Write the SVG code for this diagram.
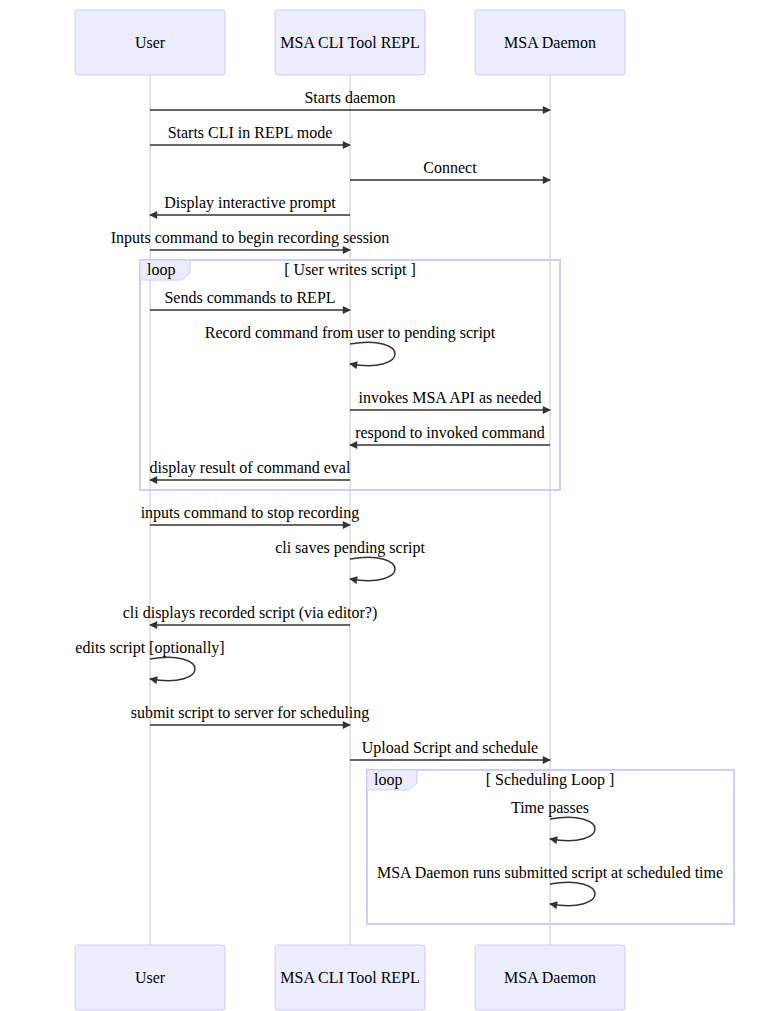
<svg xmlns="http://www.w3.org/2000/svg" width="784" height="1011" viewBox="0 0 784 1011">
  <style>
    text { font-family: "Liberation Serif", "Times New Roman", serif; font-size: 16px; fill: #000; text-anchor: middle; }
    .actor { fill: #ECECFF; stroke: #CCCCFF; stroke-width: 1; }
    .lifeline { stroke: #c8c8c8; stroke-width: 1; fill: none; }
    .msg { stroke: #333; stroke-width: 1.5; fill: none; marker-end: url(#arrowhead); }
    .loopLine { stroke: #CCCCFF; stroke-width: 2; fill: none; }
    .labelBox { fill: #ECECFF; stroke: #CCCCFF; stroke-width: 1; }
    .loopText { text-anchor: start; }
  </style>
  <defs>
    <marker id="arrowhead" markerUnits="userSpaceOnUse" viewBox="0 0 10 10" refX="9" refY="5" markerWidth="9" markerHeight="8" orient="auto">
      <path d="M0,0 L10,5 L0,10 z" fill="#333"/>
    </marker>
  </defs>
  <rect width="784" height="1011" fill="#fff"/>

  <!-- lifelines -->
  <g id="lifelines">
    <line class="lifeline" x1="150" y1="75" x2="150" y2="945"/>
    <line class="lifeline" x1="350" y1="75" x2="350" y2="945"/>
    <line class="lifeline" x1="550" y1="75" x2="550" y2="945"/>
  </g>

  <!-- participants, top -->
  <g id="user-top">
    <rect class="actor" x="75" y="10" width="150" height="65" rx="3"/>
    <text x="150" y="47.5">User</text>
  </g>
  <g id="repl-top">
    <rect class="actor" x="275" y="10" width="150" height="65" rx="3"/>
    <text x="350" y="47.5">MSA CLI Tool REPL</text>
  </g>
  <g id="daemon-top">
    <rect class="actor" x="475" y="10" width="150" height="65" rx="3"/>
    <text x="550" y="47.5">MSA Daemon</text>
  </g>

  <!-- loop frames -->
  <g id="loop-user-writes">
    <rect class="loopLine" x="140" y="260" width="420" height="230"/>
    <polygon class="labelBox" points="140,260 190,260 190,273 181.6,280 140,280"/>
    <text class="loopText" x="147" y="275">loop</text>
    <text x="350" y="275">[ User writes script ]</text>
  </g>
  <g id="loop-scheduling">
    <rect class="loopLine" x="367" y="770" width="367" height="154"/>
    <polygon class="labelBox" points="367,770 417,770 417,783 408.6,790 367,790"/>
    <text class="loopText" x="374" y="785">loop</text>
    <text x="550" y="785">[ Scheduling Loop ]</text>
  </g>

  <!-- messages -->
  <g id="connectors">
    <line class="msg" x1="150" y1="110" x2="550" y2="110"/>
    <text x="350" y="102.5">Starts daemon</text>

    <line class="msg" x1="150" y1="145" x2="350" y2="145"/>
    <text x="250" y="137.5">Starts CLI in REPL mode</text>

    <line class="msg" x1="350" y1="180" x2="550" y2="180"/>
    <text x="450" y="172.5">Connect</text>

    <line class="msg" x1="350" y1="215" x2="150" y2="215"/>
    <text x="250" y="207.5">Display interactive prompt</text>

    <line class="msg" x1="150" y1="250" x2="350" y2="250"/>
    <text x="250" y="242.5">Inputs command to begin recording session</text>

    <line class="msg" x1="150" y1="310" x2="350" y2="310"/>
    <text x="250" y="302.5">Sends commands to REPL</text>

    <path class="msg" d="M350,344 C410,334 410,374 350,364"/>
    <text x="350" y="337.5">Record command from user to pending script</text>

    <line class="msg" x1="350" y1="410" x2="550" y2="410"/>
    <text x="450" y="402.5">invokes MSA API as needed</text>

    <line class="msg" x1="550" y1="445" x2="350" y2="445"/>
    <text x="450" y="437.5">respond to invoked command</text>

    <line class="msg" x1="350" y1="480" x2="150" y2="480"/>
    <text x="250" y="472.5">display result of command eval</text>

    <line class="msg" x1="150" y1="525" x2="350" y2="525"/>
    <text x="250" y="517.5">inputs command to stop recording</text>

    <path class="msg" d="M350,559 C410,549 410,589 350,579"/>
    <text x="350" y="552.5">cli saves pending script</text>

    <line class="msg" x1="350" y1="625" x2="150" y2="625"/>
    <text x="250" y="617.5">cli displays recorded script (via editor?)</text>

    <path class="msg" d="M150,659 C210,649 210,689 150,679"/>
    <text x="150" y="652.5">edits script [optionally]</text>

    <line class="msg" x1="150" y1="725" x2="350" y2="725"/>
    <text x="250" y="717.5">submit script to server for scheduling</text>

    <line class="msg" x1="350" y1="760" x2="550" y2="760"/>
    <text x="450" y="752.5">Upload Script and schedule</text>

    <path class="msg" d="M550,819 C610,809 610,849 550,839"/>
    <text x="550" y="812.5">Time passes</text>

    <path class="msg" d="M550,884 C610,874 610,914 550,904"/>
    <text x="550" y="877.5">MSA Daemon runs submitted script at scheduled time</text>
  </g>

  <!-- participants, bottom -->
  <g id="user-bottom">
    <rect class="actor" x="75" y="945" width="150" height="65" rx="3"/>
    <text x="150" y="982.5">User</text>
  </g>
  <g id="repl-bottom">
    <rect class="actor" x="275" y="945" width="150" height="65" rx="3"/>
    <text x="350" y="982.5">MSA CLI Tool REPL</text>
  </g>
  <g id="daemon-bottom">
    <rect class="actor" x="475" y="945" width="150" height="65" rx="3"/>
    <text x="550" y="982.5">MSA Daemon</text>
  </g>
</svg>
